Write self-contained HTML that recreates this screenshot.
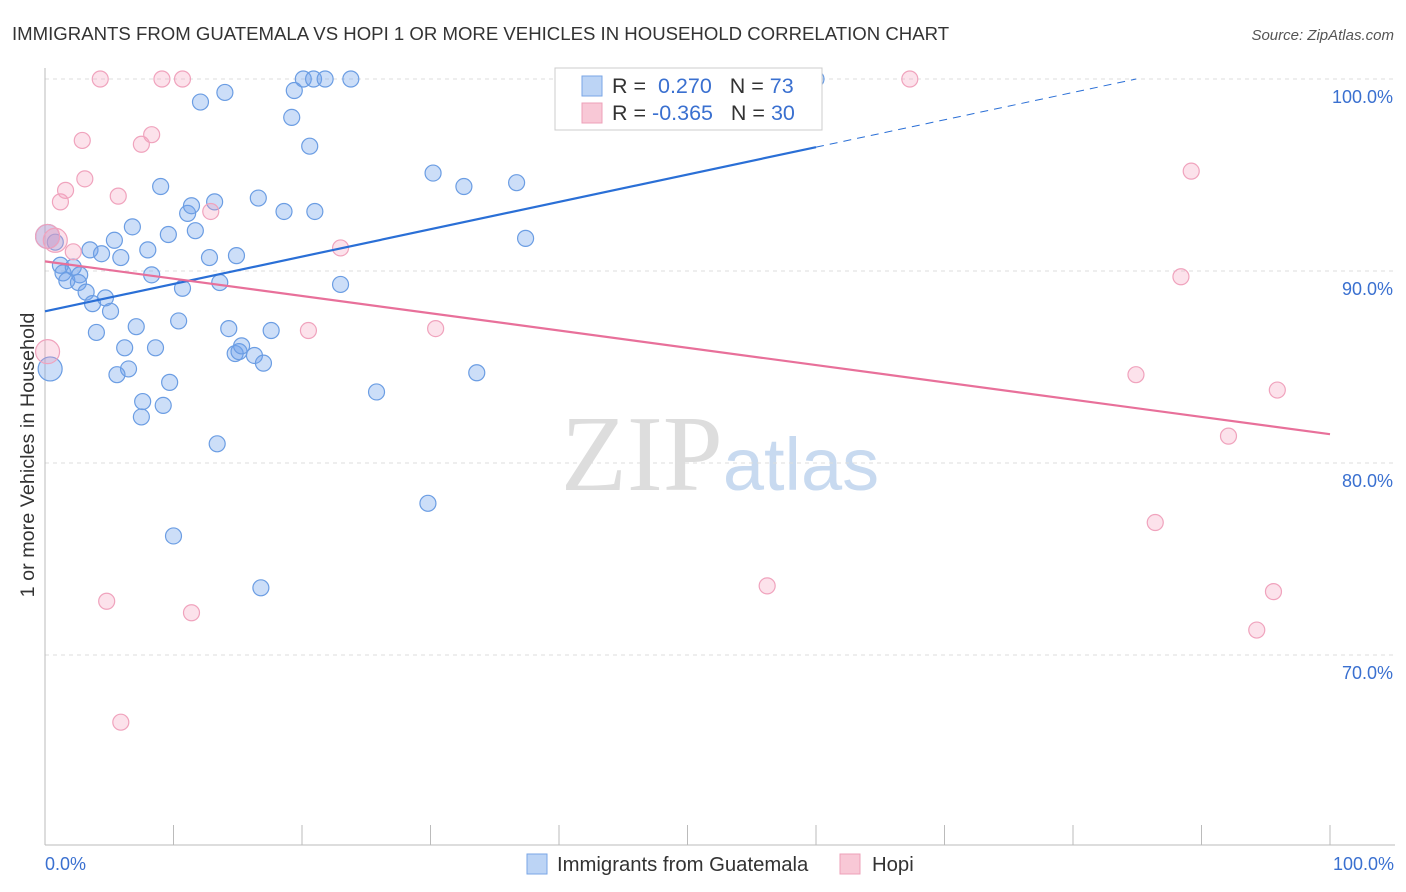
<!DOCTYPE html>
<html><head><meta charset="utf-8"><style>
body{margin:0;background:#fff;font-family:"Liberation Sans",sans-serif}
svg{display:block}
</style></head><body>
<svg id="c" width="1406" height="892">
<text x="12" y="40" font-size="18.6" fill="#333">IMMIGRANTS FROM GUATEMALA VS HOPI 1 OR MORE VEHICLES IN HOUSEHOLD CORRELATION CHART</text>
<text x="1394" y="40" font-size="15" fill="#555" font-style="italic" text-anchor="end">Source: ZipAtlas.com</text>
<text x="720" y="490" font-size="108" fill="#ddd" text-anchor="middle" font-family="Liberation Serif,serif">ZIP<tspan fill="#c8daf0" font-family="Liberation Sans,sans-serif" font-size="74">atlas</tspan></text>
<text transform="translate(34,455) rotate(-90)" font-size="19.8" fill="#333" text-anchor="middle">1 or more Vehicles in Household</text>
<g id="grid"></g><g id="marks"></g>
<g>
<rect x="555" y="68" width="267" height="62" fill="#fff" stroke="#ccc"/>
<rect x="582" y="76" width="20" height="20" fill="#bcd4f5" stroke="#7aa6e6"/>
<text x="612" y="93" font-size="21.5" fill="#333">R = <tspan fill="#3a70d0">&#160;0.270</tspan>&#160;&#160;&#160;N = <tspan fill="#3a70d0">73</tspan></text>
<rect x="582" y="103" width="20" height="20" fill="#f8c8d6" stroke="#eea0b8"/>
<text x="612" y="120" font-size="21.5" fill="#333">R = <tspan fill="#3a70d0">-0.365</tspan>&#160;&#160;&#160;N = <tspan fill="#3a70d0">30</tspan></text>
</g>
<g>
<rect x="527" y="854" width="20" height="20" fill="#bcd4f5" stroke="#7aa6e6"/>
<text x="557" y="871" font-size="20.3" fill="#333">Immigrants from Guatemala</text>
<rect x="840" y="854" width="20" height="20" fill="#f8c8d6" stroke="#eea0b8"/>
<text x="872" y="871" font-size="20.3" fill="#333">Hopi</text>
</g>
</svg>
<script>
const blueX=[0.2,0.4,0.8,1.2,1.4,1.7,2.2,2.7,2.6,3.2,3.5,3.7,4.0,4.4,4.7,5.1,5.4,5.9,6.2,6.5,5.6,6.8,7.1,7.6,7.5,8.0,8.3,8.6,9.0,9.2,9.7,9.6,10.0,10.4,10.7,11.1,11.4,11.7,12.1,12.8,13.2,13.4,13.6,14.0,14.3,14.9,14.8,15.1,15.3,16.3,16.6,16.8,17.0,17.6,18.6,19.2,19.4,20.1,20.6,20.9,21.0,21.8,23.0,23.8,25.8,29.8,30.2,32.6,33.6,36.7,37.4,60.0];
const blueY=[91.8,84.9,91.5,90.3,89.9,89.5,90.2,89.8,89.4,88.9,91.1,88.3,86.8,90.9,88.6,87.9,91.6,90.7,86.0,84.9,84.6,92.3,87.1,83.2,82.4,91.1,89.8,86.0,94.4,83.0,84.2,91.9,76.2,87.4,89.1,93.0,93.4,92.1,98.8,90.7,93.6,81.0,89.4,99.3,87.0,90.8,85.7,85.8,86.1,85.6,93.8,73.5,85.2,86.9,93.1,98.0,99.4,100,96.5,100,93.1,100,89.3,100,83.7,77.9,95.1,94.4,84.7,94.6,91.7,100];
const pinkX=[0.2,0.2,0.8,1.2,1.6,2.2,2.9,3.1,4.3,4.8,5.7,5.9,7.5,8.3,9.1,10.7,11.4,12.9,20.5,23.0,30.4,56.2,67.3,84.9,86.4,88.4,89.2,92.1,94.3,95.6,95.9];
const pinkY=[91.8,85.8,91.6,93.6,94.2,91.0,96.8,94.8,100,72.8,93.9,66.5,96.6,97.1,100,100,72.2,93.1,86.9,91.2,87.0,73.6,100,84.6,76.9,89.7,95.2,81.4,71.3,73.3,83.8];
const yTicks=[100,90,80,70];
const xLabels=["0.0%","100.0%"];
const blueLine=[87.9,96.45,60];
const pinkLine=[90.5,81.5];
const NS='http://www.w3.org/2000/svg';
const X=v=>45+v*12.85, Y=v=>79+(100-v)*19.2;
function mk(p,t,a){const e=document.createElementNS(NS,t);for(const k in a)e.setAttribute(k,a[k]);p.appendChild(e);return e;}
const g=document.getElementById('grid'),m=document.getElementById('marks');
yTicks.forEach(t=>{
 const l=mk(g,'line',{x1:45,x2:1395,y1:Y(t),y2:Y(t),stroke:'#ddd','stroke-dasharray':'4,4'});
 
 
 const tx=mk(g,'text',{x:1393,y:Y(t)+24,'font-size':18,fill:'#3a70d0','text-anchor':'end'});
 tx.textContent=t.toFixed(1)+'%';
 
 
});
mk(g,'line',{x1:45,x2:45,y1:68,y2:845,stroke:'#bbb'});
mk(g,'line',{x1:45,x2:1395,y1:845,y2:845,stroke:'#bbb'});
for(let i=0;i<=10;i++){const l=mk(g,'line',{x1:X(i*10),x2:X(i*10),y1:825,y2:845,stroke:'#bbb'});
 
 }
[[0,'start',45],[100,'end',1394]].forEach((d,i)=>{const t=mk(g,'text',{x:d[2],y:870,'font-size':18,fill:'#3a70d0','text-anchor':d[1]});t.textContent=xLabels[i];
 
 });
function pts(xs,ys,fill,stroke,name){xs.forEach((x,i)=>{const big=x<1&&(ys[i]>91.5||ys[i]<86&&ys[i]>84);
 const c=mk(m,'circle',{cx:X(x),cy:Y(ys[i]),r:big?12:8,fill:fill,stroke:stroke,'stroke-width':1.2});
 
 });}
pts(blueX,blueY,'rgba(110,160,235,0.35)','#6b9de3','guatemala-point');
pts(pinkX,pinkY,'rgba(245,160,190,0.3)','#f0a3bd','hopi-point');
const slope=(blueLine[1]-blueLine[0])/blueLine[2];
let l=mk(m,'line',{x1:X(0),y1:Y(blueLine[0]),x2:X(blueLine[2]),y2:Y(blueLine[1]),stroke:'#2a6fd6','stroke-width':2.2});


const xe=(100-blueLine[0])/slope;
l=mk(m,'line',{x1:X(blueLine[2]),y1:Y(blueLine[1]),x2:X(xe),y2:Y(100),stroke:'#2a6fd6','stroke-width':1,'stroke-dasharray':'8,6'});


l=mk(m,'line',{x1:X(0),y1:Y(pinkLine[0]),x2:X(100),y2:Y(pinkLine[1]),stroke:'#e8709a','stroke-width':2.2});


</script>
</body></html>
